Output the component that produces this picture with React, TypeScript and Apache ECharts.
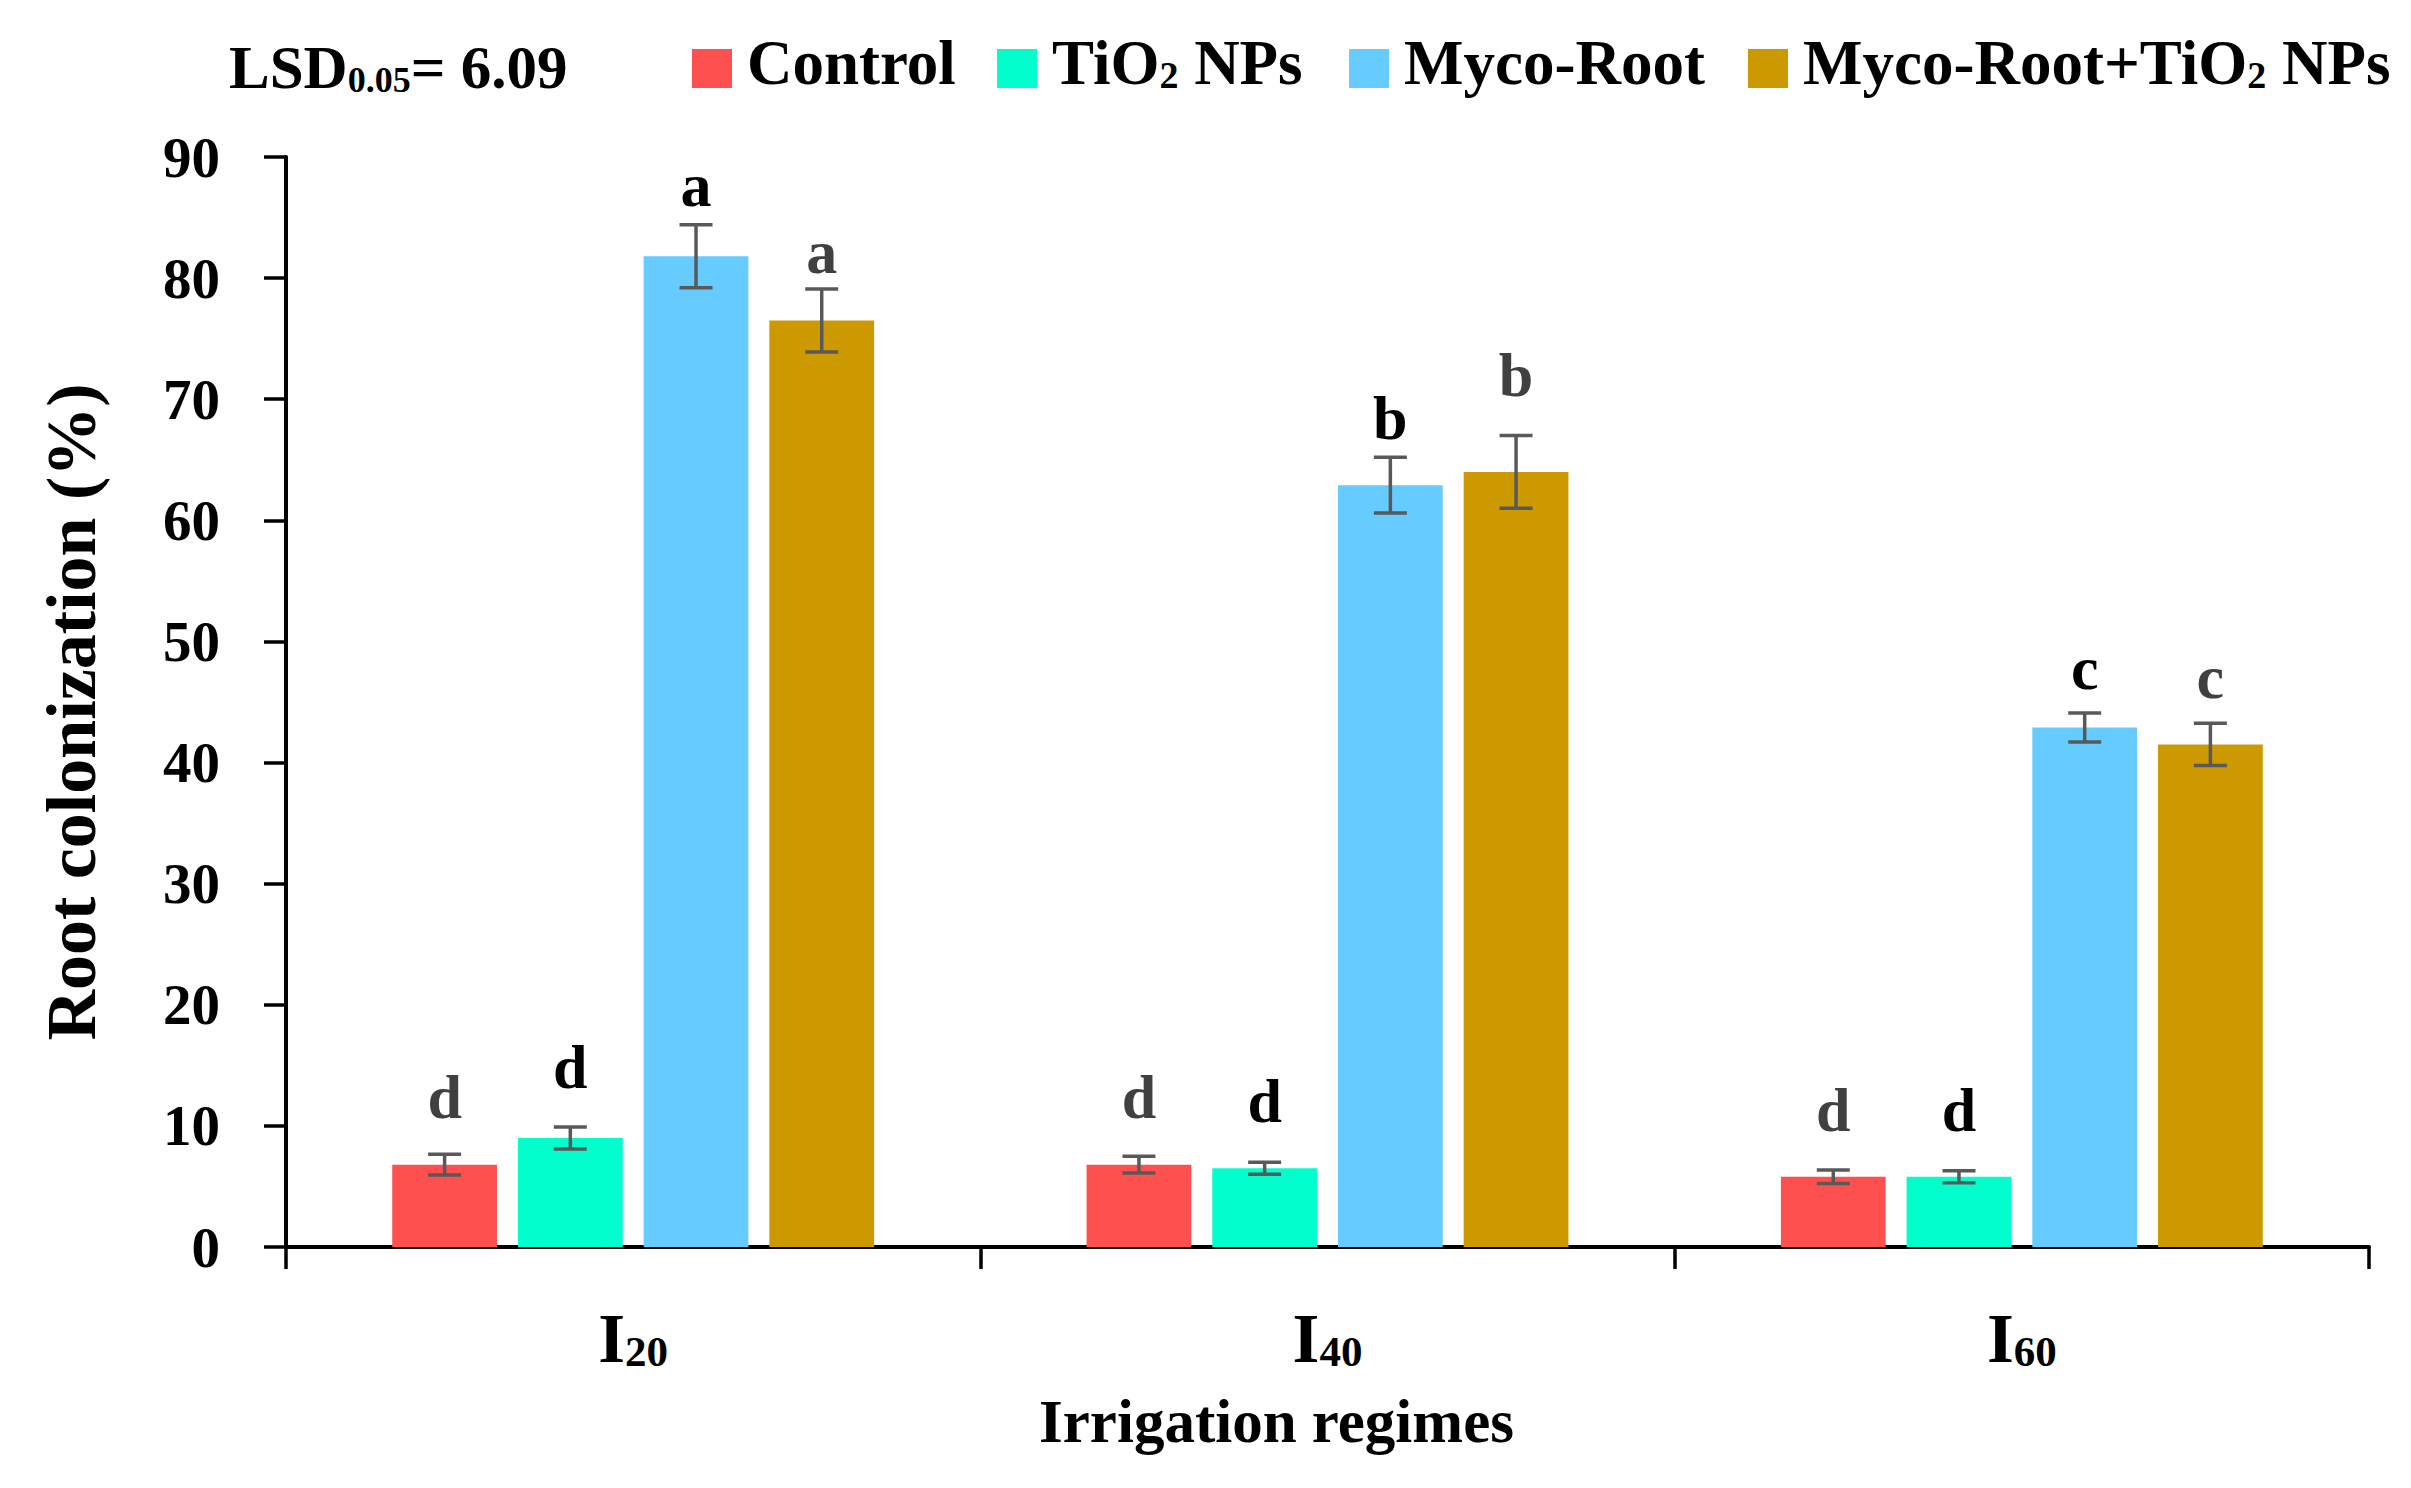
import React, { useEffect, useRef } from "react";
import * as echarts from "echarts";

const CATEGORIES = ["I20", "I40", "I60"];
const CATEGORY_SUB = ["20", "40", "60"];
const SERIES_NAMES = ["Control", "TiO2 NPs", "Myco-Root", "Myco-Root+TiO2 NPs"];
const COLORS = ["#FF5050", "#00FFCC", "#66CCFF", "#CC9900"];

const CONTROL = [6.8, 6.8, 5.8];
const TIO2 = [9.0, 6.5, 5.8];
const MYCO = [81.8, 62.9, 42.9];
const MYCO_TIO2 = [76.5, 64.0, 41.5];

const CONTROL_SD = [0.85, 0.7, 0.55];
const TIO2_SD = [0.9, 0.5, 0.5];
const MYCO_SD = [2.6, 2.3, 1.2];
const MYCO_TIO2_SD = [2.6, 3.0, 1.75];

const CONTROL_LETTERS = ["d", "d", "d"];
const TIO2_LETTERS = ["d", "d", "d"];
const MYCO_LETTERS = ["a", "b", "c"];
const MYCO_TIO2_LETTERS = ["a", "b", "c"];

// letter baseline positions (in axis units)
const CONTROL_LETTER_POS = [10.66, 10.69, 9.61];
const TIO2_LETTER_POS = [13.14, 10.3, 9.61];
const MYCO_LETTER_POS = [86.0, 66.75, 46.1];
const MYCO_TIO2_LETTER_POS = [80.4, 70.3, 45.35];

const Y_MIN = 0;
const Y_MAX = 90;
const Y_INTERVAL = 10;

const LSD_LABEL = "LSD";
const LSD_SUB = "0.05";
const LSD_VALUE = "= 6.09";

const X_TITLE = "Irrigation regimes";
const Y_TITLE = "Root colonization (%)";

const FONT = "'Liberation Serif', 'Times New Roman', serif";

export default function App() {
  const ref = useRef<HTMLDivElement>(null);

  useEffect(() => {
    if (!ref.current) return;
    const chart = echarts.init(ref.current, undefined, { renderer: "svg" });

    const values = [CONTROL, TIO2, MYCO, MYCO_TIO2];
    const sds = [CONTROL_SD, TIO2_SD, MYCO_SD, MYCO_TIO2_SD];
    const letters = [CONTROL_LETTERS, TIO2_LETTERS, MYCO_LETTERS, MYCO_TIO2_LETTERS];
    const letterPos = [CONTROL_LETTER_POS, TIO2_LETTER_POS, MYCO_LETTER_POS, MYCO_TIO2_LETTER_POS];
    const letterColors = ["#404040", "#000000", "#000000", "#404040"];

    const N = SERIES_NAMES.length;
    const BAR_GAP = 0.2;
    const BAR_CAT_GAP = 0.306;
    const LETTER_SIZE = 62;

    const barSeries = SERIES_NAMES.map((name, i) => ({
      name,
      type: "bar",
      data: values[i],
      itemStyle: { color: COLORS[i] },
      barGap: "20%",
      barCategoryGap: "30.6%",
      z: 2,
    }));

    const errSeries = SERIES_NAMES.map((name, i) => ({
      name: "err-" + name,
      type: "custom",
      z: 5,
      clip: false,
      data: values[i].map((v, k) => [k, v, sds[i][k], letterPos[i][k]]),
      renderItem: (params: any, api: any) => {
        const cat = api.value(0);
        const mean = api.value(1);
        const sd = api.value(2);
        const lp = api.value(3);
        const center = api.coord([cat, mean]);
        const catW = api.size([1, 0])[0];
        const groupW = catW * (1 - BAR_CAT_GAP);
        const barW = groupW / (N + (N - 1) * BAR_GAP);
        const x = center[0] - groupW / 2 + barW / 2 + i * barW * (1 + BAR_GAP);
        const top = api.coord([cat, mean + sd])[1];
        const bot = api.coord([cat, mean - sd])[1];
        const ly = api.coord([cat, lp])[1];
        const cap = 16.5;
        const st = { stroke: "#595959", lineWidth: 3.5 };
        return {
          type: "group",
          children: [
            { type: "line", shape: { x1: x, y1: top, x2: x, y2: bot }, style: st },
            { type: "line", shape: { x1: x - cap, y1: top, x2: x + cap, y2: top }, style: st },
            { type: "line", shape: { x1: x - cap, y1: bot, x2: x + cap, y2: bot }, style: st },
            {
              type: "text",
              x,
              y: ly - 0.3375 * LETTER_SIZE,
              style: {
                text: letters[i][params.dataIndex],
                fontSize: LETTER_SIZE,
                fontFamily: FONT,
                fontWeight: "bold",
                fill: letterColors[i],
                align: "center",
                verticalAlign: "middle",
              },
            },
          ],
        };
      },
    }));

    const legendLefts = [692, 997, 1349, 1748];
    const legends = SERIES_NAMES.map((name, i) => ({
      data: [name],
      left: legendLefts[i],
      top: 31,
      orient: "horizontal",
      icon: "rect",
      itemWidth: 40,
      itemHeight: 39,
      padding: 0,
      selectedMode: false,
      formatter: (n: string) => n.replace("TiO2", "TiO{s|2}"),
      textStyle: {
        fontFamily: FONT,
        fontWeight: "bold",
        fontSize: 63,
        lineHeight: 63,
        color: "#000",
        padding: [0, 0, 12, 10],
        rich: {
          s: {
            fontFamily: FONT,
            fontWeight: "bold",
            fontSize: 38,
            lineHeight: 26,
            verticalAlign: "bottom",
            color: "#000",
          },
        },
      },
    }));

    const option: any = {
      animation: false,
      backgroundColor: "#ffffff",
      title: {
        left: 229,
        top: 37,
        padding: 0,
        text: `{m|${LSD_LABEL}}{s|${LSD_SUB}}{m|${LSD_VALUE}}`,
        textStyle: {
          fontFamily: FONT,
          fontWeight: "bold",
          fontSize: 61,
          lineHeight: 61,
          color: "#000",
          rich: {
            m: { fontFamily: FONT, fontWeight: "bold", fontSize: 61, lineHeight: 61, color: "#000" },
            s: {
              fontFamily: FONT,
              fontWeight: "bold",
              fontSize: 36,
              lineHeight: 20,
              verticalAlign: "bottom",
              color: "#000",
            },
          },
        },
      },
      legend: legends,
      grid: { left: 286, right: 42, top: 157, bottom: 241, containLabel: false },
      xAxis: {
        type: "category",
        data: CATEGORIES,
        boundaryGap: true,
        axisLine: { show: true, lineStyle: { color: "#000", width: 4 } },
        axisTick: { show: true, alignWithLabel: false, length: 22, lineStyle: { color: "#000", width: 3.5 } },
        axisLabel: {
          margin: 57,
          formatter: (v: string, idx: number) => `{m|I}{s|${CATEGORY_SUB[idx]}}`,
          rich: {
            m: { fontFamily: FONT, fontWeight: "bold", fontSize: 69, lineHeight: 69, color: "#000" },
            s: {
              fontFamily: FONT,
              fontWeight: "bold",
              fontSize: 43,
              lineHeight: 33,
              verticalAlign: "bottom",
              color: "#000",
            },
          },
        },
        name: X_TITLE,
        nameLocation: "middle",
        nameGap: 144,
        nameTextStyle: {
          fontFamily: FONT,
          fontWeight: "bold",
          fontSize: 61,
          lineHeight: 61,
          color: "#000",
          padding: [0, 102, 0, 0],
        },
        splitLine: { show: false },
      },
      yAxis: {
        type: "value",
        min: Y_MIN,
        max: Y_MAX,
        interval: Y_INTERVAL,
        axisLine: { show: true, lineStyle: { color: "#000", width: 4 } },
        axisTick: { show: true, length: 22, lineStyle: { color: "#000", width: 3.5 } },
        axisLabel: {
          margin: 66,
          fontFamily: FONT,
          fontWeight: "bold",
          fontSize: 57,
          color: "#000",
        },
        splitLine: { show: false },
        name: Y_TITLE,
        nameLocation: "middle",
        nameRotate: 90,
        nameGap: 180,
        nameTextStyle: {
          fontFamily: FONT,
          fontWeight: "bold",
          fontSize: 70,
          lineHeight: 70,
          color: "#000",
          padding: [0, 20, 0, 0],
        },
      },
      series: [...barSeries, ...errSeries],
    };

    chart.setOption(option);
    return () => chart.dispose();
  }, []);

  return (
    <div
      ref={ref}
      style={{ position: "fixed", left: 0, top: 0, width: 2411, height: 1488, background: "#fff" }}
    />
  );
}
